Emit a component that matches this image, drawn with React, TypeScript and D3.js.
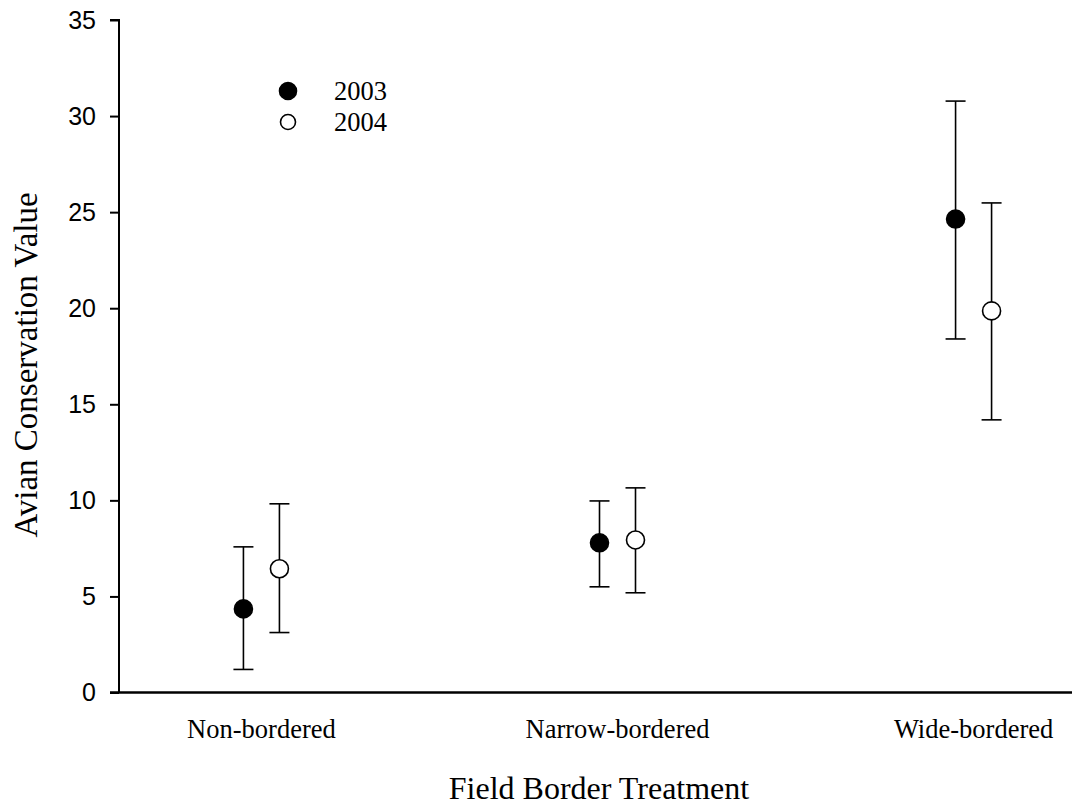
import React, { useEffect, useRef } from "react";
import * as d3 from "d3";

// treatments on the x axis
const treatments = ["Non-bordered", "Narrow-bordered", "Wide-bordered"];
const years = ["2003", "2004"];

// mean + error bounds
const mean2003 = [4.35, 7.79, 24.64];
const low2003 = [1.2, 5.5, 18.4];
const high2003 = [7.58, 9.97, 30.78];

const mean2004 = [6.44, 7.94, 19.86];
const low2004 = [3.12, 5.19, 14.19];
const high2004 = [9.82, 10.65, 25.48];

const yTicks = [0, 5, 10, 15, 20, 25, 30, 35];

const W = 1072;
const H = 810;
const serif = "'Times New Roman', 'Liberation Serif', serif";

function App() {
  const svgRef = useRef<SVGSVGElement>(null);

  useEffect(() => {
    const svg = d3.select(svgRef.current);
    svg.selectAll("*").remove();

    const y = d3.scaleLinear().domain([0, 35]).range([692.5, 20]);
    // axis runs off the right edge in the original
    const x = d3.scalePoint<string>().domain(treatments).range([119, 1116]).padding(0.4);
    const offset = 18;

    const series = [
      { key: years[0], mean: mean2003, low: low2003, high: high2003, fill: "#000", dx: -offset },
      { key: years[1], mean: mean2004, low: low2004, high: high2004, fill: "#fff", dx: offset },
    ];

    // y axis
    const yAxis = d3.axisLeft(y).tickValues(yTicks).tickSize(9).tickPadding(14);
    const gy = svg.append("g").attr("transform", "translate(119,0)").call(yAxis);
    gy.select(".domain").attr("stroke-width", 2).attr("d", `M-9,${y(35)}H0V${y(0)}`);
    gy.selectAll(".tick line").attr("stroke-width", 2);
    gy.selectAll(".tick text")
      .attr("font-family", "Arial, 'Liberation Sans', sans-serif")
      .attr("font-size", 25)
      .attr("fill", "#000");

    // x axis line
    svg.append("line")
      .attr("x1", 110).attr("x2", W)
      .attr("y1", y(0)).attr("y2", y(0))
      .attr("stroke", "#000").attr("stroke-width", 2.5);

    // category labels
    svg.append("g")
      .selectAll("text")
      .data(treatments)
      .join("text")
      .attr("x", (d) => x(d)!)
      .attr("y", 738)
      .attr("text-anchor", "middle")
      .attr("font-family", serif)
      .attr("font-size", 26.5)
      .text((d) => d);

    // error bars + points
    series.forEach((s) => {
      const g = svg.append("g");
      const cx = (i: number) => x(treatments[i])! + s.dx;
      treatments.forEach((_, i) => {
        g.append("line")
          .attr("x1", cx(i)).attr("x2", cx(i))
          .attr("y1", y(s.low[i])).attr("y2", y(s.high[i]))
          .attr("stroke", "#000").attr("stroke-width", 1.6);
        [s.low[i], s.high[i]].forEach((v) => {
          g.append("line")
            .attr("x1", cx(i) - 10).attr("x2", cx(i) + 10)
            .attr("y1", y(v)).attr("y2", y(v))
            .attr("stroke", "#000").attr("stroke-width", 1.6);
        });
        g.append("circle")
          .attr("cx", cx(i)).attr("cy", y(s.mean[i]))
          .attr("r", 9)
          .attr("fill", s.fill)
          .attr("stroke", "#000").attr("stroke-width", 1.6);
      });
    });

    // legend
    const legend = svg.append("g");
    series.forEach((s, i) => {
      legend.append("circle")
        .attr("cx", 288).attr("cy", 91 + i * 31)
        .attr("r", s.fill === "#000" ? 8.5 : 7.5)
        .attr("fill", s.fill)
        .attr("stroke", "#000").attr("stroke-width", 1.6);
      legend.append("text")
        .attr("x", 334).attr("y", 91 + i * 31)
        .attr("dy", "0.35em")
        .attr("font-family", serif)
        .attr("font-size", 26.5)
        .text(s.key);
    });

    // axis titles
    svg.append("text")
      .attr("transform", `translate(37,365) rotate(-90)`)
      .attr("text-anchor", "middle")
      .attr("font-family", serif)
      .attr("font-size", 33)
      .text("Avian Conservation Value");

    svg.append("text")
      .attr("x", 599).attr("y", 799)
      .attr("text-anchor", "middle")
      .attr("font-family", serif)
      .attr("font-size", 32)
      .text("Field Border Treatment");
  }, []);

  return (
    <svg
      ref={svgRef}
      width={W}
      height={H}
      style={{ position: "absolute", left: 0, top: 0, background: "#fff" }}
    />
  );
}

export default App;
